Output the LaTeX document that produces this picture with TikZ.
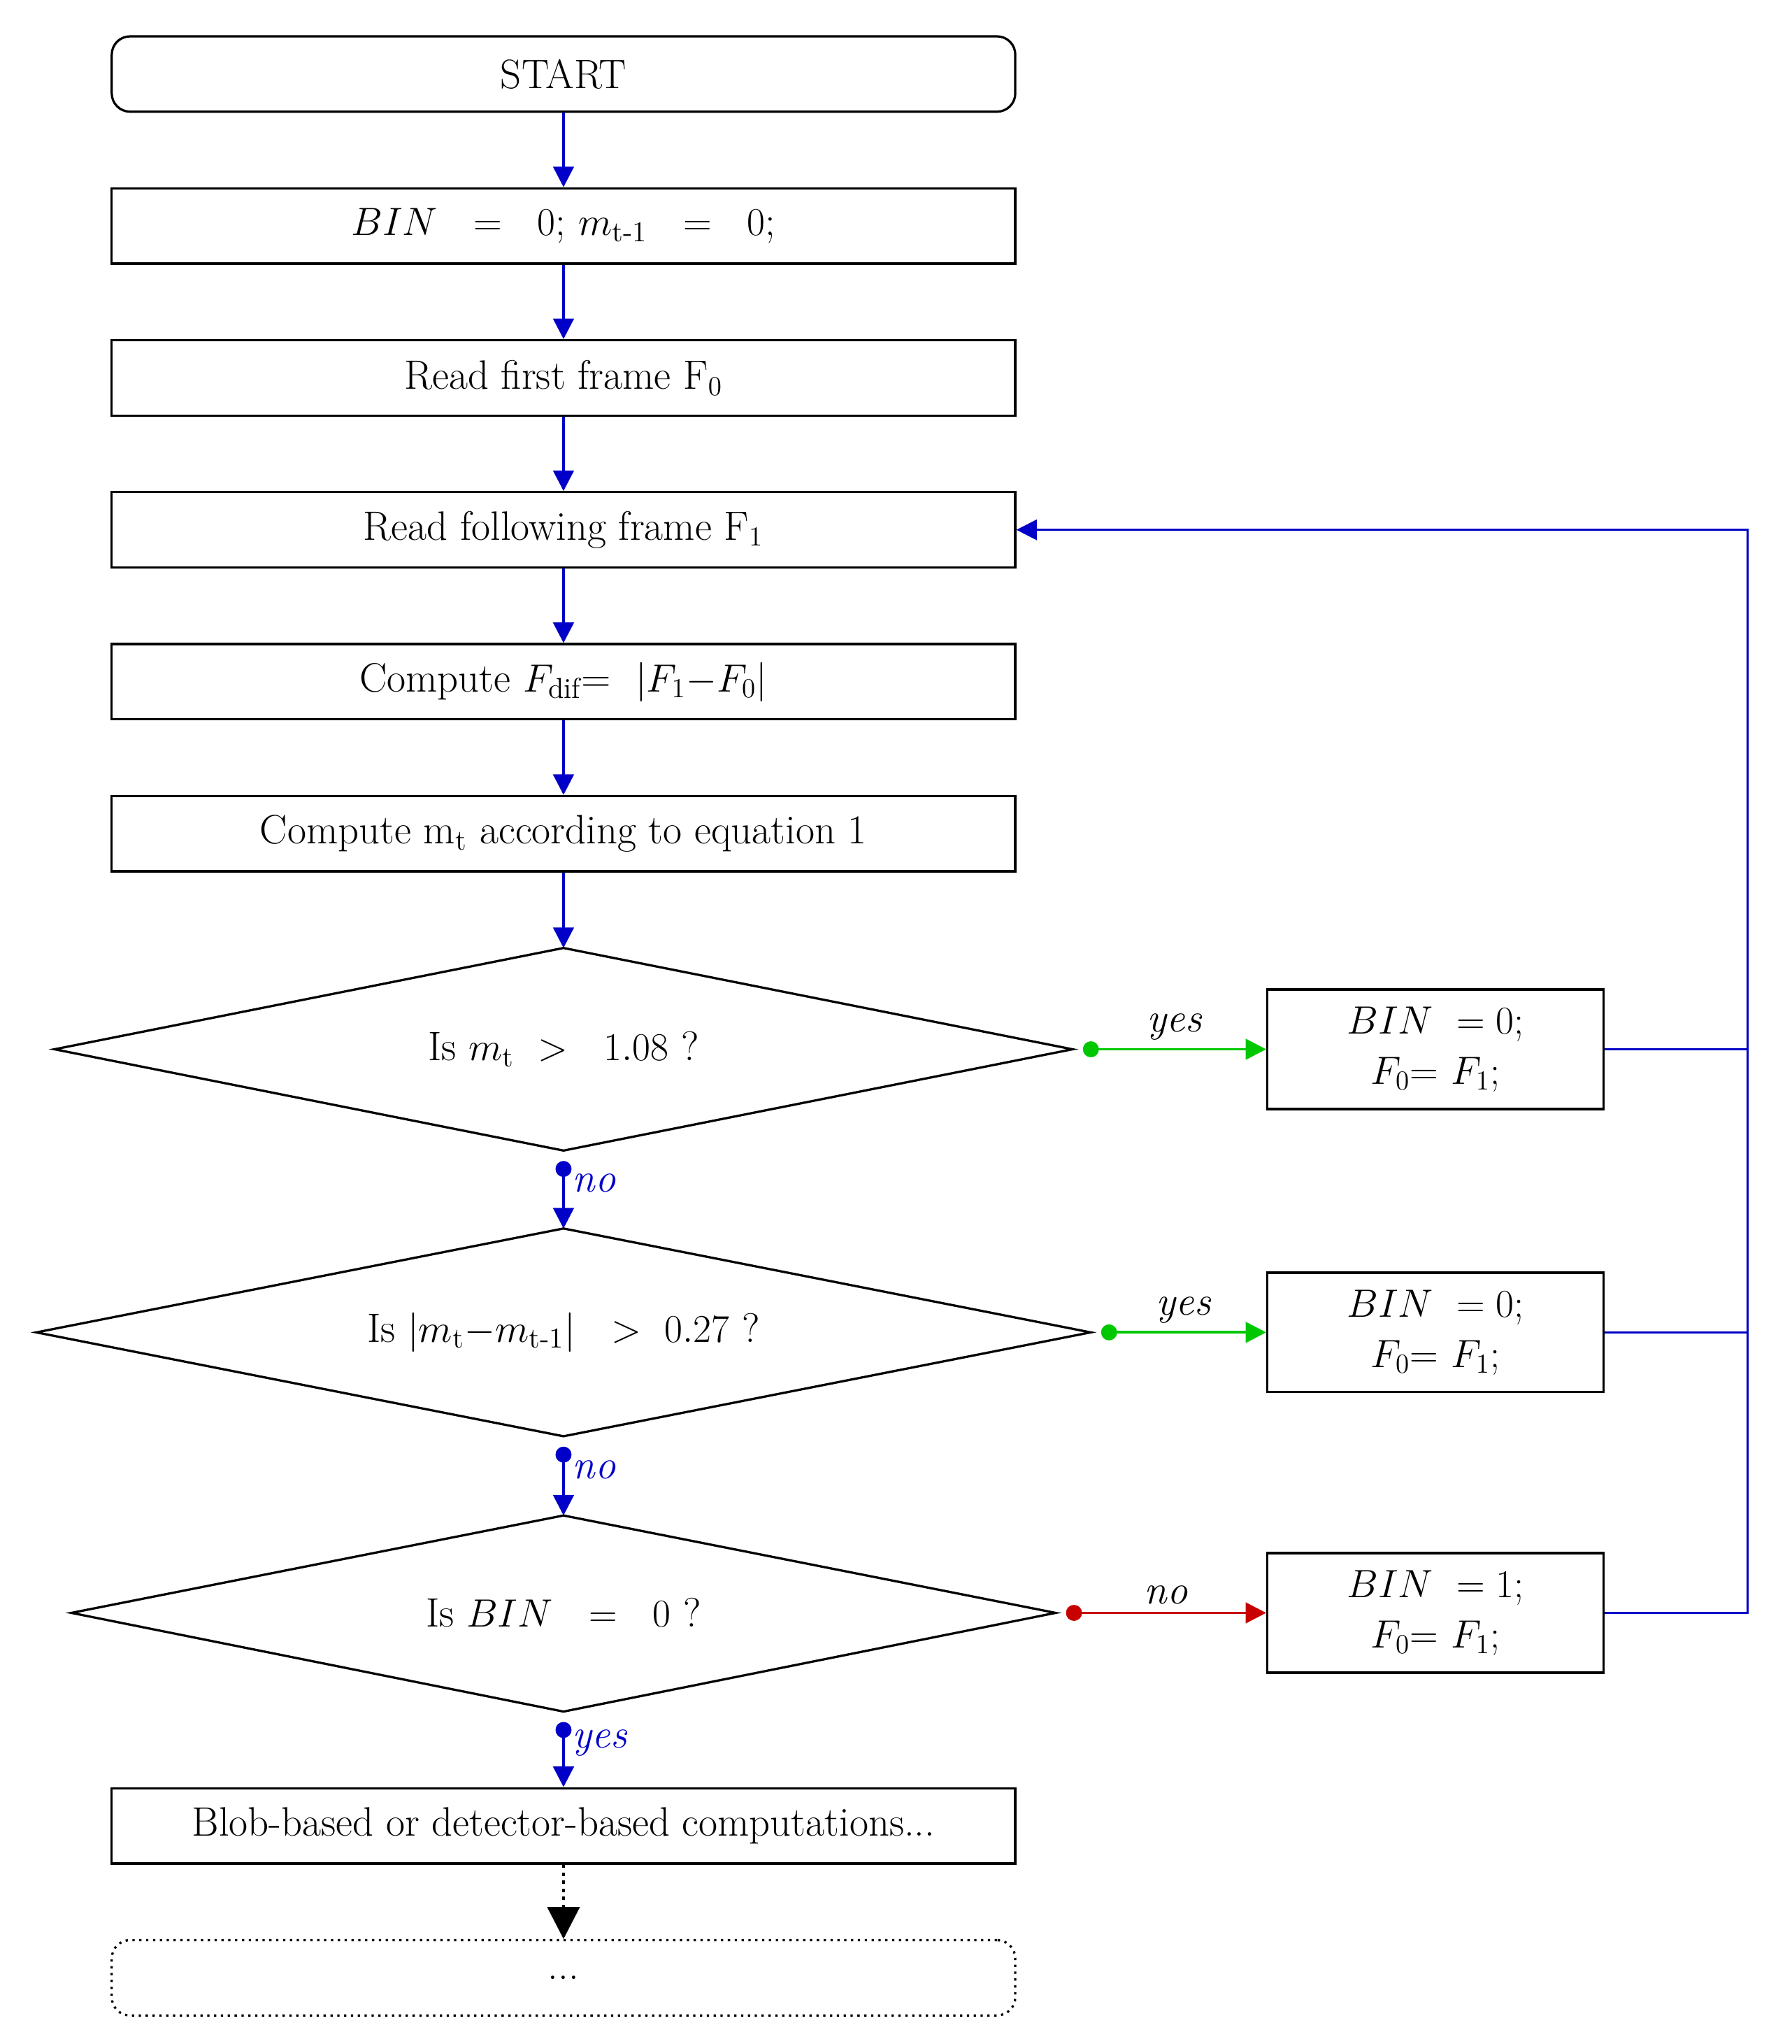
\documentclass[tikz,border=0pt]{standalone}
\usepackage{amsmath}
\usetikzlibrary{arrows.meta}
\definecolor{fblue}{RGB}{0,0,200}
\definecolor{fgreen}{RGB}{0,200,0}
\definecolor{fred}{RGB}{200,0,0}
\begin{document}
\begin{tikzpicture}[x=0.02cm,y=-0.02cm,
  every node/.style={font=\fontsize{18pt}{22pt}\selectfont},
  box/.style={draw,line width=1pt,minimum width=13.92cm,minimum height=1.16cm,inner sep=0pt},
  rbox/.style={draw,line width=1pt,minimum width=5.18cm,minimum height=1.84cm,inner sep=0pt,align=center},
  dia/.style={draw,line width=1pt},
  flow/.style={fblue,line width=1.2pt,-{Triangle[length=9pt,width=9pt]}},
  yflow/.style={line width=1.2pt,{Circle[length=7pt]}-{Triangle[length=9pt,width=9pt]}},
  lbl/.style={font=\fontsize{18pt}{22pt}\selectfont\itshape}]
\useasboundingbox (0,0) rectangle (1380,1574);
\node[box,rounded corners=8pt] (start) at (434,57) {START};
\node[box] (init) at (434,174) {$BIN\ \ =\ \ 0$; $m_{\text{t-1}}\ \ =\ \ 0$;};
\node[box] (read0) at (434,291) {Read first frame F$_0$};
\node[box] (read1) at (434,408) {Read following frame F$_1$};
\node[box] (diff) at (434,525) {Compute $F_{\text{dif}}$=\ \ $|F_1{-}F_0|$};
\node[box] (mt) at (434,642) {Compute m$_{\text{t}}$ according to equation 1};
% diamonds
\coordinate (d1n) at (434,730); \coordinate (d1s) at (434,886);
\coordinate (d1w) at (42,808); \coordinate (d1e) at (826,808);
\draw[dia] (d1n)--(d1e)--(d1s)--(d1w)--cycle;
\node (d1) at (434,808) {Is $m_{\text{t}}\ >\ \ 1.08$ ?};
\coordinate (d2n) at (434,946); \coordinate (d2s) at (434,1106);
\coordinate (d2w) at (28,1026); \coordinate (d2e) at (840,1026);
\draw[dia] (d2n)--(d2e)--(d2s)--(d2w)--cycle;
\node (d2) at (434,1026) {Is $|m_{\text{t}}{-}m_{\text{t-1}}|\ \ >\ 0.27$ ?};
\coordinate (d3n) at (434,1167); \coordinate (d3s) at (434,1318);
\coordinate (d3w) at (55,1242); \coordinate (d3e) at (813,1242);
\draw[dia] (d3n)--(d3e)--(d3s)--(d3w)--cycle;
\node (d3) at (434,1242) {Is $BIN\ \ =\ \ 0$ ?};
\node[box] (blob) at (434,1406) {Blob-based or detector-based computations...};
\node[box,rounded corners=8pt,dotted] (dots) at (434,1523) {...};
% right boxes
\node[rbox] (r1) at (1105.5,808) {$BIN\ = 0;$\\ $F_0{=}\ F_1;$};
\node[rbox] (r2) at (1105.5,1026) {$BIN\ = 0;$\\ $F_0{=}\ F_1;$};
\node[rbox] (r3) at (1105.5,1242) {$BIN\ = 1;$\\ $F_0{=}\ F_1;$};
% main flow
\draw[flow] (start)--(init);
\draw[flow] (init)--(read0);
\draw[flow] (read0)--(read1);
\draw[flow] (read1)--(diff);
\draw[flow] (diff)--(mt);
\draw[flow] (mt)--(d1n);
\coordinate (d1sd) at (434,894);
\coordinate (d2sd) at (434,1114);
\coordinate (d3sd) at (434,1326);
\draw[yflow,fblue] (d1sd)--(d2n) node[midway,right,lbl,yshift=5pt] {no};
\draw[yflow,fblue] (d2sd)--(d3n) node[midway,right,lbl,yshift=5pt] {no};
\draw[yflow,fblue] (d3sd)--(blob) node[midway,right,lbl,yshift=5pt] {yes};
\draw[line width=1.5pt,dotted,-{Triangle[length=14pt,width=14pt]}] (blob)--(dots);
% side flow
\coordinate (d1ed) at (834,808);
\coordinate (d2ed) at (848,1026);
\coordinate (d3ed) at (821,1242);
\draw[yflow,fgreen] (d1ed)--(r1) node[midway,above,lbl,black] {yes};
\draw[yflow,fgreen] (d2ed)--(r2) node[midway,above,lbl,black] {yes};
\draw[yflow,fred] (d3ed)--(r3) node[midway,above,lbl,black] {no};
\coordinate (c1) at (1346,808);
\coordinate (c2) at (1346,1026);
\coordinate (c3) at (1346,1242);
\coordinate (ctop) at (1346,408);
\draw[fblue,line width=0.8pt] (r1.east)--(c1);
\draw[fblue,line width=0.8pt] (r2.east)--(c2);
\draw[fblue,line width=0.8pt,-{Triangle[length=9pt,width=9pt]}] (r3.east)--(c3)--(ctop)--(read1.east);
\end{tikzpicture}
\end{document}
